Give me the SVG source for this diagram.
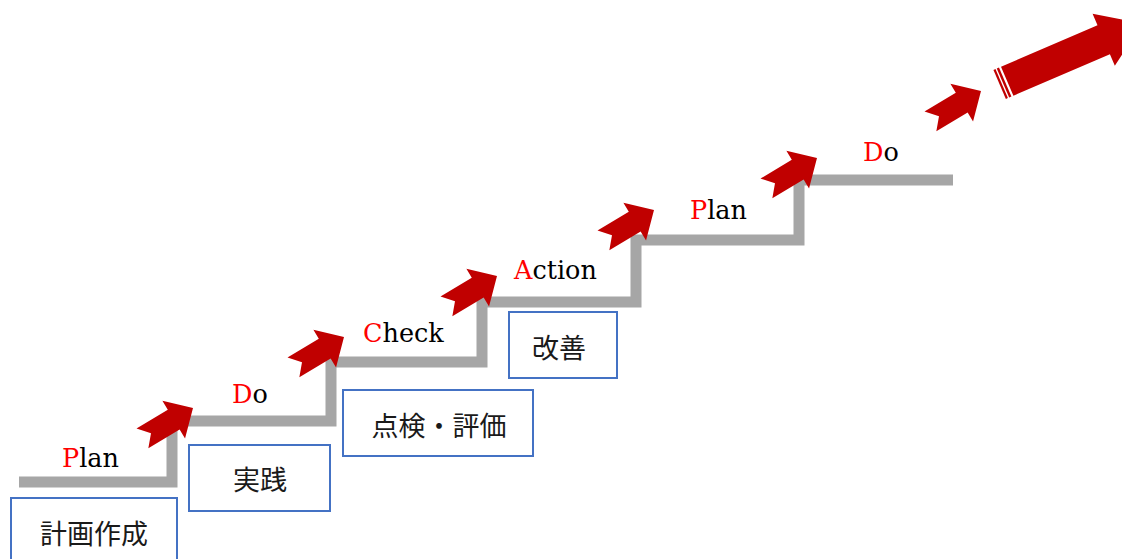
<svg xmlns="http://www.w3.org/2000/svg" xmlns:xlink="http://www.w3.org/1999/xlink" width="1122" height="559" viewBox="0 0 1122 559">
  <style>
    .stair { fill: none; stroke: #a6a6a6; stroke-width: 11; stroke-linejoin: miter; stroke-linecap: butt; }
    .arrow { fill: #c00000; stroke: none; }
    .box { fill: #ffffff; stroke: #4472c4; stroke-width: 2; }
    .lbl { font-family: "DejaVu Serif", "Liberation Serif", serif; font-size: 25.5px; fill: #000000; }
    .init { fill: #ff0000; }
    .jp { font-family: "Noto Sans CJK JP", "Noto Sans CJK SC", sans-serif; font-size: 27px; fill: #1a1a1a; text-anchor: middle; }
  </style>
  <defs>
    <path id="arr" d="M0,0 L-22.5,-22 L-22.5,-11.5 L-59,-11.5 L-49,0 L-59,11.5 L-22.5,11.5 L-22.5,22 Z"/>
  </defs>
  <rect width="1122" height="559" fill="#ffffff"/>

  <g id="stairs">
    <polyline class="stair" points="19,482 172,482 172,421 331,421 331,362 482,362 482,302 636,302 636,240 799,240 799,180 953,180"/>
  </g>

  <g id="connectors">
    <use xlink:href="#arr" class="arrow" transform="translate(193,408) rotate(-31)"/>
    <use xlink:href="#arr" class="arrow" transform="translate(344,337) rotate(-31)"/>
    <use xlink:href="#arr" class="arrow" transform="translate(497,276) rotate(-31)"/>
    <use xlink:href="#arr" class="arrow" transform="translate(654,210) rotate(-31)"/>
    <use xlink:href="#arr" class="arrow" transform="translate(817,158) rotate(-31)"/>
    <use xlink:href="#arr" class="arrow" transform="translate(981,91) rotate(-31)"/>
    <g id="big-arrow" class="arrow" transform="translate(1001,66.7) rotate(-23.2)">
      <rect x="-8.2" y="0" width="2.2" height="31.5"/>
      <rect x="-4.6" y="0" width="2.4" height="31.5"/>
      <path d="M0,0 L105,0 L105,-12.5 L147,15.75 L105,44 L105,31.5 L0,31.5 Z"/>
    </g>
  </g>

  <g id="step1">
    <text class="lbl" x="62" y="467"><tspan class="init">P</tspan>lan</text>
    <rect class="box" x="11" y="498" width="166" height="70"/>
    <text class="jp" x="94" y="544">計画作成</text>
  </g>
  <g id="step2">
    <text class="lbl" x="232" y="403"><tspan class="init">D</tspan>o</text>
    <rect class="box" x="189" y="445" width="141" height="66"/>
    <text class="jp" x="260" y="490">実践</text>
  </g>
  <g id="step3">
    <text class="lbl" x="363" y="342"><tspan class="init">C</tspan>heck</text>
    <rect class="box" x="343" y="390" width="190" height="66"/>
    <text class="jp" x="439" y="436">点検・評価</text>
  </g>
  <g id="step4">
    <text class="lbl" x="514" y="279"><tspan class="init">A</tspan>ction</text>
    <rect class="box" x="509" y="312" width="108" height="66"/>
    <text class="jp" x="559" y="358">改善</text>
  </g>
  <g id="step5">
    <text class="lbl" x="690" y="219"><tspan class="init">P</tspan>lan</text>
  </g>
  <g id="step6">
    <text class="lbl" x="863" y="161"><tspan class="init">D</tspan>o</text>
  </g>
</svg>
